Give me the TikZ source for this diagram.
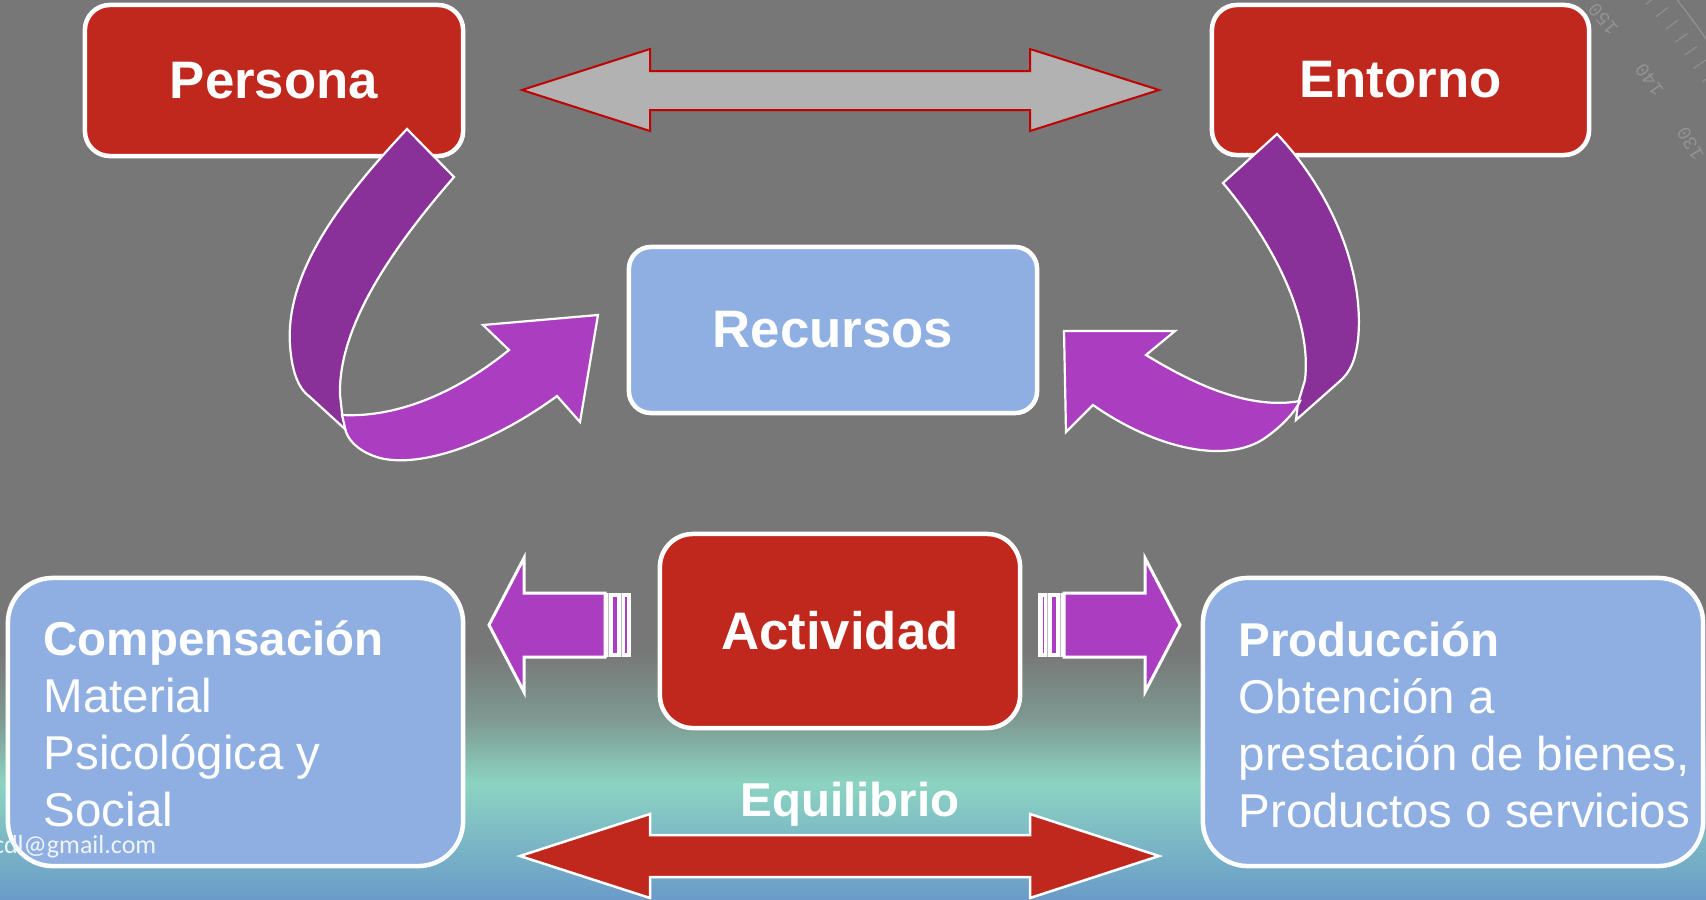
\documentclass[tikz,border=0pt]{standalone}
\usepackage{fontspec}
\setmainfont{Liberation Sans}
\newfontfamily\mailfont{Carlito}
\newfontfamily\dialfont{Liberation Mono}
\usepackage{tikz}
\definecolor{fondo}{HTML}{777777}
\definecolor{grisverde}{HTML}{7E9A92}
\definecolor{verdeagua}{HTML}{8CD4C1}
\definecolor{azulfondo}{HTML}{6A9BC9}
\definecolor{rojo}{HTML}{C0281E}
\definecolor{azulcaja}{HTML}{8FAFE3}
\definecolor{lila}{HTML}{AB3EC0}
\definecolor{morado}{HTML}{8A3199}
\definecolor{grisflecha}{HTML}{B2B2B2}
\definecolor{rojoborde}{HTML}{C00000}
\definecolor{dial}{HTML}{939393}

\tikzset{
caja/.style={draw=white, line width=0.045cm, text=white, font=\fontsize{15}{18}\selectfont\bfseries},
cajaroja/.style={caja, fill=rojo, rounded corners=0.25cm},
cajaazul/.style={caja, fill=azulcaja, rounded corners=0.45cm},
texto/.style={text=white, align=left, inner sep=0pt, font=\fontsize{13.5}{16.2}\selectfont},
cinta/.style={draw=white, line width=0.022cm},
}

\begin{document}
\begin{tikzpicture}[x=0.01cm,y=-0.01cm]
\useasboundingbox (0,0) rectangle (1706,900);
%%Fondo
\fill[fondo] (0,0) rectangle (1706,900);
\shade[top color=fondo, bottom color=grisverde] (0,650) rectangle (1706,721);
\shade[top color=grisverde, bottom color=verdeagua] (0,720) rectangle (1706,784);
\shade[top color=verdeagua, bottom color=azulfondo] (0,783) rectangle (1706,900);

%%Transportador
\begin{scope}
\clip (0,0) rectangle (1706,900);
\draw[dial, line width=0.012cm] plot[domain=30:42, samples=25] ({935+942*cos(\x)},{580-942*sin(\x)});
\foreach \a in {28,...,42}
  \draw[dial, line width=0.01cm] ({935+915*cos(\a)},{580-915*sin(\a)}) -- ({935+930*cos(\a)},{580-930*sin(\a)});
\foreach \a/\n in {40/150,35/140,30/130}
  \node[text=dial, rotate=\a+90, font=\dialfont\fontsize{5.5}{6}\selectfont] (dial\n) at ({935+872*cos(\a)},{580-872*sin(\a)}) {\n};
\end{scope}

%%Flecha superior
\filldraw[fill=grisflecha, draw=rojoborde, line width=0.02cm] (522,90) -- (650,49) -- (650,71) -- (1030,71) -- (1030,49) -- (1159,90) -- (1030,131) -- (1030,110) -- (650,110) -- (650,131) -- cycle;

%%Cajas
\node[cajaroja, minimum width=3.78cm, minimum height=1.51cm] (persona) at (274,80.5) {Persona};
\node[cajaroja, minimum width=3.77cm, minimum height=1.5cm] (entorno) at (1400.5,80) {Entorno};
\node[cajaazul, rounded corners=0.22cm, minimum width=4.08cm, minimum height=1.66cm] (recursos) at (833,330) {Recursos};
\node[cajaroja, rounded corners=0.33cm, minimum width=3.6cm, minimum height=1.94cm] (actividad) at (840,631) {Actividad};
\node[cajaazul, minimum width=4.55cm, minimum height=2.88cm] (compensacion) at (235.5,722) {};
\node[cajaazul, minimum width=5cm, minimum height=2.88cm] (produccion) at (1453,722) {};

%%Flecha curva izquierda
\filldraw[cinta, fill=morado] (407,129) .. controls (345,195) and (285,270) .. (290,345) .. controls (292,375) and (300,390) .. (310,397) -- (346,430) -- (342,413) -- (340,395) .. controls (338,325) and (395,245) .. (454,177) -- cycle;
\filldraw[cinta, fill=lila] (342,415) .. controls (400,418) and (460,390) .. (509,350) -- (483,325) -- (598,315) -- (580,422) -- (557,396) .. controls (490,445) and (420,468) .. (380,458) .. controls (362,453) and (350,443) .. (346,432) -- cycle;

%%Flecha curva derecha
\filldraw[cinta, fill=morado] (1223,183) -- (1277,134) .. controls (1330,190) and (1365,270) .. (1358,340) .. controls (1355,362) and (1350,372) .. (1340,381) -- (1296,420) -- (1298,403) -- (1305,380) .. controls (1312,320) and (1275,245) .. (1223,183) -- cycle;
\filldraw[cinta, fill=lila] (1300,401) .. controls (1250,410) and (1195,385) .. (1146,355) -- (1175,331) -- (1064,331) -- (1066,432) -- (1093,405) .. controls (1150,445) and (1220,465) .. (1262,440) .. controls (1280,428) and (1292,415) .. (1298,405) -- cycle;

%%Flechas laterales
\filldraw[fill=lila, draw=white, line width=0.03cm] (489,625) -- (524,558) -- (524,593) -- (605,593) -- (605,657) -- (524,657) -- (524,692) -- cycle;
\fill[white] (605,593) rectangle (631,657);
\fill[lila] (613,597) rectangle (617,653);
\fill[lila] (625,597) rectangle (626.5,653);
\draw[gray!50, line width=0.006cm] (608.5,593) -- (608.5,657) (621.5,593) -- (621.5,657);

\filldraw[fill=lila, draw=white, line width=0.03cm] (1180,625) -- (1145,558) -- (1145,593) -- (1064,593) -- (1064,657) -- (1145,657) -- (1145,692) -- cycle;
\fill[white] (1038,593) rectangle (1064,657);
\fill[lila] (1052,597) rectangle (1056,653);
\fill[lila] (1042.5,597) rectangle (1044,653);
\draw[gray!50, line width=0.006cm] (1060.5,593) -- (1060.5,657) (1047.5,593) -- (1047.5,657);

%%Flecha inferior
\filldraw[fill=rojo, draw=white, line width=0.025cm] (520,856) -- (650,814) -- (650,835) -- (1030,835) -- (1030,814) -- (1159,856) -- (1030,898) -- (1030,877) -- (650,877) -- (650,898) -- cycle;

%%Textos
\node[texto, anchor=base west] (compensaciontxt) at (43,826) {\textbf{Compensación}\\Material\\Psicológica y\\Social};
\node[texto, anchor=base west] (producciontxt) at (1238,827) {\textbf{Producción}\\Obtención a\\prestación de bienes,\\Productos o servicios};
\node[texto, anchor=base, font=\fontsize{13.5}{16.2}\selectfont\bfseries] (equilibrio) at (850,816) {Equilibrio};
\node[anchor=base east, inner sep=0pt, text=white!90!azulfondo, font=\mailfont\fontsize{7.4}{9}\selectfont] (correo) at (157,853) {cdl@gmail.com};

\end{tikzpicture}
\end{document}
